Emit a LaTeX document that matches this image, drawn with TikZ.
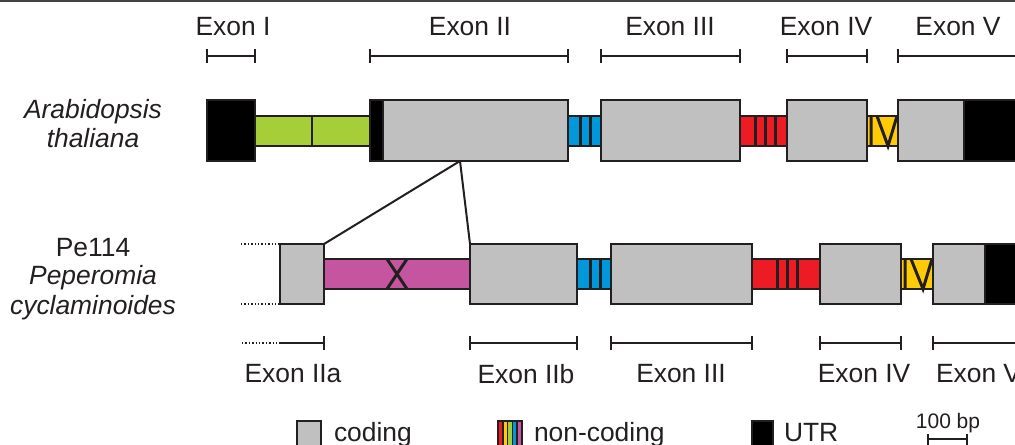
\documentclass[tikz,border=0pt]{standalone}
\usepackage{fontspec}
\setmainfont{Liberation Sans}
\definecolor{outl}{HTML}{231F20}
\definecolor{codgray}{HTML}{C0C0C0}
\definecolor{igreen}{HTML}{A6CE39}
\definecolor{iblue}{HTML}{0098DA}
\definecolor{ired}{HTML}{ED1C24}
\definecolor{iyellow}{HTML}{FFCB05}
\definecolor{imag}{HTML}{C4559E}
\tikzset{
  cod/.style={draw=outl,fill=codgray},
  utr/.style={draw=outl,fill=black},
  intr/.style={draw=outl},
  lbl/.style={font=\fontsize{13.2}{15}\selectfont,text=outl},
}
\begin{document}
\begin{tikzpicture}[x=0.5pt,y=-0.5pt,line width=1pt,lbl]
  \useasboundingbox (0,0) rectangle (1015,444);
  \draw[outl!85,line width=1.2pt] (0,1) -- (1015,1);
  % species
  \node[anchor=base] (sp1a) at (93,119) {\itshape Arabidopsis};
  \node[anchor=base] (sp1b) at (93,147) {\itshape thaliana};
  \node[anchor=base] (sp2a) at (93,256) {Pe114};
  \node[anchor=base] (sp2b) at (93,284) {\itshape Peperomia};
  \node[anchor=base] (sp2c) at (93,314) {\itshape cyclaminoides};
  % top exon scale
  \node (t1) at (233,27) {Exon I};
  \node (t2) at (470,27) {Exon II};
  \node (t3) at (670,27) {Exon III};
  \node (t4) at (826,27) {Exon IV};
  \node (t5) at (958,27) {Exon V};
  \foreach \a/\b in {207/255,370/568,601/740,787/867,898/1030}{
    \draw[outl] (\a,56) -- (\b,56);
    \draw[outl,line width=1.4pt] (\a,49) -- (\a,63) (\b,49) -- (\b,63);}
  % Arabidopsis
  \draw[intr,fill=igreen] (255,116) rectangle (370,146); \draw[outl] (312,116) -- (312,146);
  \draw[intr,fill=iblue] (568,116) rectangle (601,146);
  \foreach \x in {580,590} \draw[outl,line width=1.5pt] (\x,116) -- (\x,146);
  \draw[intr,fill=ired] (740,116) rectangle (787,146);
  \foreach \x in {755,765,775} \draw[outl,line width=1.5pt] (\x,116) -- (\x,146);
  \draw[intr,fill=iyellow] (867,116) rectangle (898,146);
  \draw[outl,line width=1.5pt] (871,116) -- (871,146) (877,116) -- (888,146) -- (897,116);
  \draw[utr] (207,100) rectangle (255,161);
  \draw[utr] (370,100) rectangle (383,161); \draw[cod] (383,100) rectangle (568,161);
  \draw[cod] (601,100) rectangle (740,161);
  \draw[cod] (787,100) rectangle (867,161);
  \draw[cod] (898,100) rectangle (964,161); \draw[utr] (964,100) rectangle (1030,161);
  % Peperomia
  \draw[outl,densely dotted,line width=0.7pt] (241,244) -- (280,244) (241,304) -- (280,304);
  \draw[intr,fill=imag] (324,259) rectangle (470,289);
  \draw[outl,line width=1.5pt] (387,259) -- (407,289) (407,259) -- (387,289);
  \draw[intr,fill=iblue] (577,259) rectangle (611,289);
  \foreach \x in {590,600} \draw[outl,line width=1.5pt] (\x,259) -- (\x,289);
  \draw[intr,fill=ired] (752,259) rectangle (820,289);
  \foreach \x in {777,787,797} \draw[outl,line width=1.5pt] (\x,259) -- (\x,289);
  \draw[intr,fill=iyellow] (901,259) rectangle (933,289);
  \draw[outl,line width=1.5pt] (905,259) -- (905,289) (911,259) -- (923,289) -- (932,259);
  \draw[cod] (280,244) rectangle (324,304);
  \draw[cod] (470,244) rectangle (577,304);
  \draw[cod] (611,244) rectangle (752,304);
  \draw[cod] (820,244) rectangle (901,304);
  \draw[cod] (933,244) rectangle (985,304); \draw[utr] (985,244) rectangle (1030,304);
  % split of exon II
  \coordinate (split) at (460,161);
  \coordinate (e2a) at (324,244);
  \coordinate (e2b) at (470,244);
  \draw[outl] (split) -- (e2a) (split) -- (e2b);
  % bottom exon scale
  \draw[outl,densely dotted,line width=0.7pt] (242,343) -- (280,343);
  \draw[outl] (280,343) -- (324,343); \draw[outl,line width=1.4pt] (324,336) -- (324,350);
  \foreach \a/\b in {470/577,611/752,820/901,933/1030}{
    \draw[outl] (\a,343) -- (\b,343);
    \draw[outl,line width=1.4pt] (\a,336) -- (\a,350) (\b,336) -- (\b,350);}
  \node (b1) at (293,374) {Exon IIa};
  \node (b2) at (526,374) {Exon IIb};
  \node (b3) at (681,374) {Exon III};
  \node (b4) at (864,374) {Exon IV};
  \node[right,inner sep=0] (b5) at (935,374) {Exon V};
  % legend
  \draw[cod] (297,421) rectangle (321,450);
  \node[anchor=base west,inner sep=0] (k1) at (333,441) {coding};
  \foreach \c [count=\i from 0] in {ired,iyellow,igreen,iblue,imag}
    \fill[\c] (498+\i*4.8,421) rectangle (498+\i*4.8+4.8,450);
  \foreach \i in {1,...,4} \draw[outl,line width=0.8pt] (498+\i*4.8,421) -- (498+\i*4.8,450);
  \draw[outl] (498,421) rectangle (522,450);
  \node[anchor=base west,inner sep=0] (k2) at (533,441) {non-coding};
  \draw[utr] (752,421) rectangle (773,450);
  \node[anchor=base west,inner sep=0] (k3) at (783,441) {UTR};
  \node[anchor=base,font=\fontsize{10.5}{12}\selectfont] (k4) at (948,428) {100 bp};
  \draw[outl] (928,439) -- (967,439);
  \draw[outl,line width=1.4pt] (928,434) -- (928,446) (967,434) -- (967,446);
\end{tikzpicture}
\end{document}
